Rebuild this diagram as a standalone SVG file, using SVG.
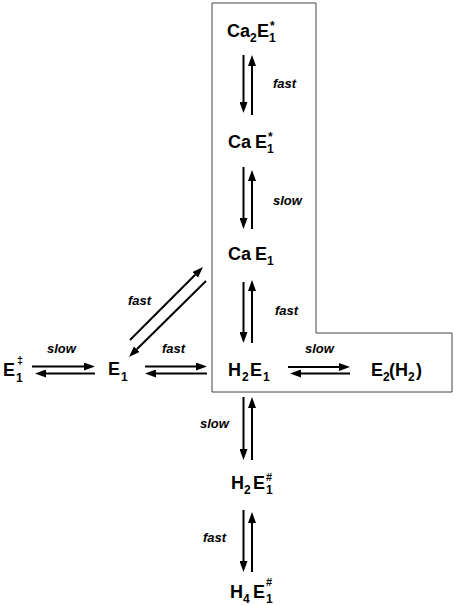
<svg xmlns="http://www.w3.org/2000/svg" width="455" height="605" viewBox="0 0 455 605">
<style>
.n{font-family:"Liberation Sans",Arial,sans-serif;font-weight:bold;font-size:18px;fill:#000}
.s{font-size:12px}
.l{font-family:"Liberation Sans",Arial,sans-serif;font-weight:bold;font-style:italic;font-size:13px;fill:#000}
.a{stroke:#000;stroke-width:2;fill:none;marker-end:url(#ah)}
.box{fill:none;stroke:#444;stroke-width:1}
</style>
<defs>
<marker id="ah" markerUnits="userSpaceOnUse" markerWidth="12" markerHeight="8" refX="0" refY="4" orient="auto">
<path d="M0,0 L11,4 L0,8 Z" fill="#000"/>
</marker>
</defs>
<rect width="455" height="605" fill="#fff"/>
<path class="box" d="M212,3 H316 V333 H452 V392 H212 Z"/>
<g id="Ca2E1star"><text class="n"><tspan x="227" y="37">Ca</tspan><tspan class="s" x="250" y="42">2</tspan><tspan x="257" y="37">E</tspan><tspan class="s" x="269" y="42">1</tspan><tspan class="s" x="270" y="30">*</tspan></text></g>
<g id="CaE1star"><text class="n"><tspan x="228" y="148">Ca</tspan><tspan x="255" y="148">E</tspan><tspan class="s" x="267" y="153">1</tspan><tspan class="s" x="268" y="141">*</tspan></text></g>
<g id="CaE1"><text class="n"><tspan x="228" y="260">Ca</tspan><tspan x="255" y="260">E</tspan><tspan class="s" x="267" y="265">1</tspan></text></g>
<g id="H2E1"><text class="n"><tspan x="228" y="376">H</tspan><tspan class="s" x="242" y="381">2</tspan><tspan x="250" y="376">E</tspan><tspan class="s" x="263" y="381">1</tspan></text></g>
<g id="E2H2"><text class="n"><tspan x="371" y="376">E</tspan><tspan class="s" x="383" y="381">2</tspan><tspan x="389" y="376">(H</tspan><tspan class="s" x="408" y="381">2</tspan><tspan x="416" y="376">)</tspan></text></g>
<g id="E1"><text class="n"><tspan x="108" y="375">E</tspan><tspan class="s" x="121" y="381">1</tspan></text></g>
<g id="E1ddagger"><text class="n"><tspan x="3" y="376">E</tspan><tspan class="s" x="16" y="382">1</tspan><tspan class="s" style="font-size:11px" x="17" y="364">‡</tspan></text></g>
<g id="H2E1hash"><text class="n"><tspan x="231" y="489">H</tspan><tspan class="s" x="244" y="494">2</tspan><tspan x="253" y="489">E</tspan><tspan class="s" x="266" y="494">1</tspan><tspan class="s" style="font-size:11px" x="266" y="481">#</tspan></text></g>
<g id="H4E1hash"><text class="n"><tspan x="230" y="598">H</tspan><tspan class="s" x="243" y="603">4</tspan><tspan x="253" y="598">E</tspan><tspan class="s" x="266" y="603">1</tspan><tspan class="s" style="font-size:11px" x="266" y="586">#</tspan></text></g>
<g id="connectors">
<line class="a" x1="243.5" y1="55" x2="243.5" y2="102"/>
<line class="a" x1="252" y1="115" x2="252" y2="66"/>
<line class="a" x1="243.5" y1="167" x2="243.5" y2="218"/>
<line class="a" x1="252" y1="229" x2="252" y2="181"/>
<line class="a" x1="243.5" y1="282" x2="243.5" y2="332"/>
<line class="a" x1="252" y1="343" x2="252" y2="291"/>
<line class="a" x1="243.5" y1="397" x2="243.5" y2="449"/>
<line class="a" x1="252" y1="460" x2="252" y2="408"/>
<line class="a" x1="243.5" y1="510" x2="243.5" y2="561"/>
<line class="a" x1="252" y1="572" x2="252" y2="523"/>
<line class="a" x1="32" y1="366.5" x2="84" y2="366.5"/>
<line class="a" x1="95" y1="373.5" x2="46" y2="373.5"/>
<line class="a" x1="145" y1="366.5" x2="196" y2="366.5"/>
<line class="a" x1="207" y1="373.5" x2="156" y2="373.5"/>
<line class="a" x1="288" y1="367" x2="339" y2="367"/>
<line class="a" x1="350" y1="373.5" x2="301" y2="373.5"/>
<line class="a" x1="130" y1="340" x2="195.2" y2="274.8"/>
<line class="a" x1="206" y1="281" x2="136.8" y2="349.2"/>
<text class="l" x="273" y="88">fast</text>
<text class="l" x="273" y="205">slow</text>
<text class="l" x="275" y="315">fast</text>
<text class="l" x="200" y="428">slow</text>
<text class="l" x="203" y="542">fast</text>
<text class="l" x="47" y="353">slow</text>
<text class="l" x="162" y="353">fast</text>
<text class="l" x="305" y="353">slow</text>
<text class="l" x="128" y="305">fast</text>
</g>
</svg>
